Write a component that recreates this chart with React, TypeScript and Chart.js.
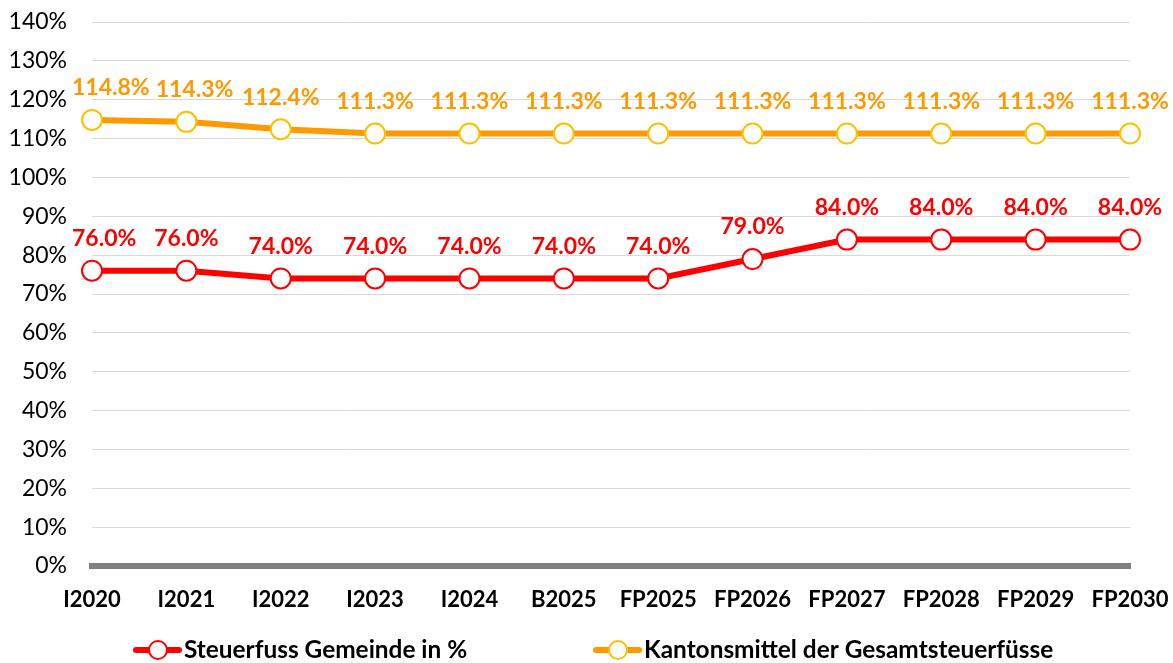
import React, { useEffect, useRef } from "react";
import { Chart, registerables } from "chart.js";

Chart.register(...registerables);

const categories = ["I2020", "I2021", "I2022", "I2023", "I2024", "B2025", "FP2025", "FP2026", "FP2027", "FP2028", "FP2029", "FP2030"];
const gemeindeValues = [76.0, 76.0, 74.0, 74.0, 74.0, 74.0, 74.0, 79.0, 84.0, 84.0, 84.0, 84.0];
const kantonValues = [114.8, 114.3, 112.4, 111.3, 111.3, 111.3, 111.3, 111.3, 111.3, 111.3, 111.3, 111.3];
const seriesNames = ["Steuerfuss Gemeinde in %", "Kantonsmittel der Gesamtsteuerfüsse"];

const FONT = "Lato, 'Open Sans', sans-serif";
const RED = "#FF0000";
const ORANGE = "#FF9900";
const ORANGE_BORDER = "#FFC000";

const labelPlugin = {
  id: "valueLabels",
  afterDatasetsDraw(chart: any) {
    const ctx = chart.ctx;
    ctx.save();
    ctx.font = `bold 23px ${FONT}`;
    ctx.textAlign = "center";
    ctx.textBaseline = "middle";
    chart.data.datasets.forEach((ds: any, di: number) => {
      const meta = chart.getDatasetMeta(di);
      ctx.fillStyle = ds.labelColor;
      let prevRight = -Infinity;
      let prevY = -Infinity;
      meta.data.forEach((pt: any, i: number) => {
        const txt = ds.data[i].toFixed(1) + "%";
        const w = ctx.measureText(txt).width;
        const y = pt.y - 32;
        let x = pt.x;
        if (x - w / 2 < 72) x = 72 + w / 2;
        if (Math.abs(y - prevY) < 22 && x - w / 2 < prevRight + 6) x = prevRight + 6 + w / 2;
        ctx.fillText(txt, x, y);
        prevRight = x + w / 2;
        prevY = y;
      });
    });
    ctx.restore();
  },
};

const legendPlugin = {
  id: "customLegend",
  afterDraw(chart: any) {
    const ctx = chart.ctx;
    const y = 650;
    const items = [
      { x: 133, line: RED, border: RED, text: seriesNames[0] },
      { x: 593, line: ORANGE, border: ORANGE_BORDER, text: seriesNames[1] },
    ];
    ctx.save();
    items.forEach((it) => {
      ctx.strokeStyle = it.line;
      ctx.lineWidth = 6;
      ctx.lineCap = "round";
      ctx.beginPath();
      ctx.moveTo(it.x + 3, y);
      ctx.lineTo(it.x + 46, y);
      ctx.stroke();
      ctx.beginPath();
      ctx.arc(it.x + 25, y, 9, 0, Math.PI * 2);
      ctx.fillStyle = "#fff";
      ctx.fill();
      ctx.lineWidth = 2;
      ctx.strokeStyle = it.border;
      ctx.stroke();
      ctx.fillStyle = "#000";
      ctx.font = `bold 24.4px ${FONT}`;
      ctx.textAlign = "left";
      ctx.textBaseline = "middle";
      ctx.fillText(it.text, it.x + 51, y);
    });
    ctx.restore();
  },
};

export default function App() {
  const ref = useRef<HTMLCanvasElement>(null);
  useEffect(() => {
    const chart = new Chart(ref.current!, {
      type: "line",
      data: {
        labels: categories,
        datasets: [
          {
            label: seriesNames[0],
            data: gemeindeValues,
            borderColor: RED,
            borderWidth: 6,
            pointRadius: 10,
            pointBorderWidth: 2,
            pointBackgroundColor: "#fff",
            pointBorderColor: RED,
            tension: 0,
            labelColor: RED,
          } as any,
          {
            label: seriesNames[1],
            data: kantonValues,
            borderColor: ORANGE,
            borderWidth: 6,
            pointRadius: 10,
            pointBorderWidth: 2,
            pointBackgroundColor: "#fff",
            pointBorderColor: ORANGE_BORDER,
            tension: 0,
            labelColor: ORANGE,
          } as any,
        ],
      },
      options: {
        animation: false,
        responsive: false,
        maintainAspectRatio: false,
        layout: { padding: { left: 0, right: 43, top: 22, bottom: 0 } },
        plugins: { legend: { display: false }, tooltip: { enabled: false } },
        scales: {
          x: {
            offset: false,
            grid: { display: false, drawTicks: false },
            border: { display: true, color: "#808080", width: 6 },
            ticks: {
              autoSkip: false,
              maxRotation: 0,
              minRotation: 0,
              padding: 21,
              color: "#000",
              font: { family: FONT, size: 22, weight: "bold" },
            },
            afterFit(scale: any) {
              scale.height = 97;
              scale.paddingLeft = 0;
              scale.paddingRight = 0;
            },
          },
          y: {
            min: 0,
            max: 140,
            grid: { color: "#D9D9D9", lineWidth: 1, drawTicks: false },
            border: { display: false },
            ticks: {
              stepSize: 10,
              padding: 25,
              color: "#000",
              font: { family: FONT, size: 23 },
              callback: (v: any) => v + "%",
            },
            afterFit(scale: any) {
              scale.width = 92;
              scale.paddingTop = 0;
              scale.paddingBottom = 0;
            },
          },
        },
      },
      plugins: [labelPlugin, legendPlugin],
    });
    return () => chart.destroy();
  }, []);
  return (
    <div style={{ position: "fixed", left: 0, top: 0, width: 1173, height: 663, background: "#fff" }}>
      <canvas ref={ref} width={1173} height={663} style={{ width: 1173, height: 663 }} />
    </div>
  );
}
